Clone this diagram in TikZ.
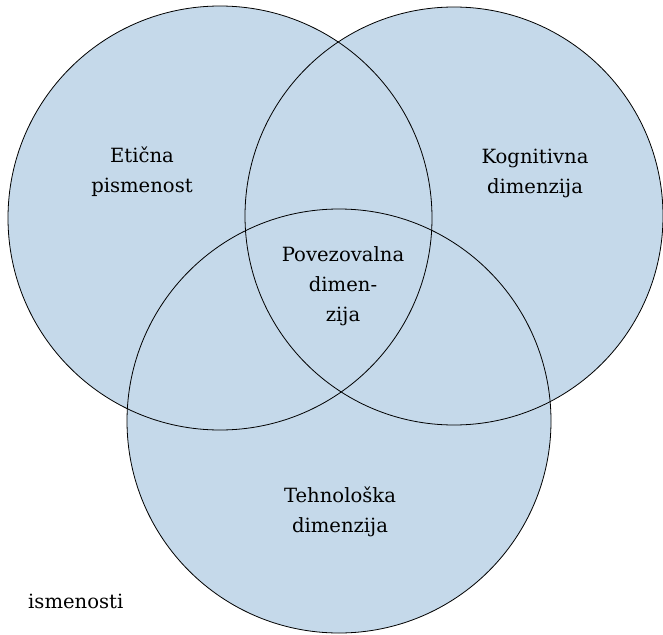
\documentclass[tikz,border=0pt]{standalone}
\usepackage{fontspec}
\setmainfont{DejaVu Serif}
\definecolor{vennfill}{RGB}{197,217,234}
\begin{document}
\begin{tikzpicture}[x=1pt,y=-1pt,
  venn/.style={circle,minimum size=#1,inner sep=0pt},
  lbl/.style={align=center,font=\fontsize{19.6}{30}\selectfont,inner sep=0pt}]
\useasboundingbox (0,0) rectangle (663,634);
\node[venn=424pt] (L) at (220,218) {};
\node[venn=418pt] (R) at (454,216) {};
\node[venn=424pt] (B) at (339,421) {};
\fill[vennfill] (L.center) circle[radius=212];
\fill[vennfill] (R.center) circle[radius=209];
\fill[vennfill] (B.center) circle[radius=212];
\draw[black,line width=0.8pt] (L.center) circle[radius=212];
\draw[black,line width=0.8pt] (R.center) circle[radius=209];
\draw[black,line width=0.8pt] (B.center) circle[radius=212];
\node[lbl] (e) at (142,172) {Etična\\pismenost};
\node[lbl] (k) at (535,173) {Kognitivna\\dimenzija};
\node[lbl] (p) at (343,286) {Povezovalna\\dimen-\\zija};
\node[lbl] (t) at (340,512) {Tehnološka\\dimenzija};
\node[lbl,anchor=base west] (i) at (28,608) {ismenosti};
\end{tikzpicture}
\end{document}
